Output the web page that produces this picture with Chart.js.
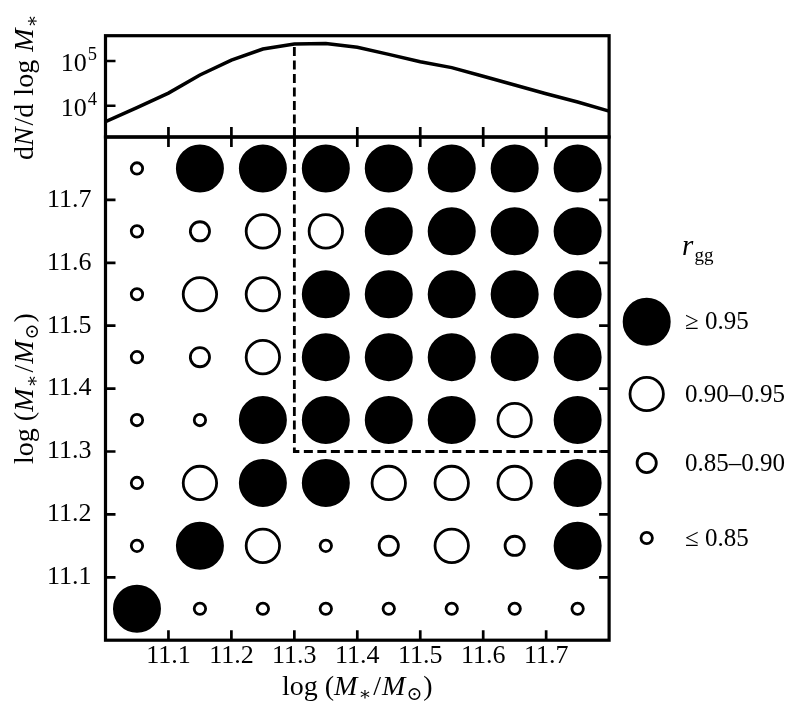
<!DOCTYPE html>
<html>
<head>
<meta charset="utf-8">
<script src="https://cdn.jsdelivr.net/npm/chart.js@4.4.0/dist/chart.umd.min.js"></script>
<style>
html,body{margin:0;padding:0;background:#fff;}
#wrap{width:796px;height:721px;position:relative;}
</style>
</head>
<body>
<div id="wrap"><canvas id="c" width="796" height="721"></canvas></div>
<script>
// ---------------- data ----------------
// stellar-mass bin centres (x, columns)
const massBins = [11.05, 11.15, 11.25, 11.35, 11.45, 11.55, 11.65, 11.75];
// rows of the grid, from top (11.75) to bottom (11.05)
const rowMasses = [11.75, 11.65, 11.55, 11.45, 11.35, 11.25, 11.15, 11.05];
// r_gg class per cell: 0 = <=0.85, 1 = 0.85-0.90, 2 = 0.90-0.95, 3 = >=0.95
const rggClass = [
  [0, 3, 3, 3, 3, 3, 3, 3],
  [0, 1, 2, 2, 3, 3, 3, 3],
  [0, 2, 2, 3, 3, 3, 3, 3],
  [0, 1, 2, 3, 3, 3, 3, 3],
  [0, 0, 3, 3, 3, 3, 2, 3],
  [0, 2, 3, 3, 2, 2, 2, 3],
  [0, 3, 2, 0, 1, 2, 1, 3],
  [3, 0, 0, 0, 0, 0, 0, 0]
];
const classLabels = ['\u2264 0.85', '0.85\u20130.90', '0.90\u20130.95', '\u2265 0.95'];

// stellar mass function, top panel
const mfMass = [11.00, 11.05, 11.10, 11.15, 11.20, 11.25, 11.30, 11.35, 11.40,
                11.45, 11.50, 11.55, 11.60, 11.65, 11.70, 11.75, 11.80];
const mfValues = [4390, 9100, 19200, 48600, 105000, 185000, 240000, 245000, 202000,
                  141000, 96400, 71100, 45500, 29000, 18500, 12100, 7600];

// axes
const xTicks = [11.1, 11.2, 11.3, 11.4, 11.5, 11.6, 11.7];
const yTicks = [11.1, 11.2, 11.3, 11.4, 11.5, 11.6, 11.7];
const mfTicks = [1e4, 1e5];
const massRange = [11.0, 11.8];
const mfRange = [2000, 368000];
const cutMass = 11.3;

// ---------------- styling ----------------
const SERIF = "'Liberation Serif','DejaVu Serif',serif";
const FS = 25;
const TFS = 26;
const BW = 2.8;
const classStyle = [
  { r: 7.1 - BW / 2,  fill: '#ffffff' },
  { r: 11.0 - BW / 2, fill: '#ffffff' },
  { r: 18.1 - BW / 2, fill: '#ffffff' },
  { r: 24.0 - BW / 2, fill: '#000000' }
];

const datasets = classLabels.map((lab, k) => ({
  type: 'scatter',
  label: lab,
  data: [],
  xAxisID: 'x',
  yAxisID: 'y',
  showLine: false,
  pointRadius: classStyle[k].r,
  pointHoverRadius: classStyle[k].r,
  pointBackgroundColor: classStyle[k].fill,
  pointBorderColor: '#000',
  pointBorderWidth: BW,
  pointHoverBorderWidth: BW
}));
rowMasses.forEach((ym, i) => {
  massBins.forEach((xm, j) => {
    datasets[rggClass[i][j]].data.push({ x: xm, y: ym });
  });
});
datasets.push({
  type: 'line',
  label: 'dN/dlogM',
  data: mfMass.map((m, i) => ({ x: m, y: mfValues[i] })),
  xAxisID: 'x',
  yAxisID: 'yTop',
  borderColor: '#000',
  borderWidth: 3.5,
  pointRadius: 0,
  tension: 0,
  fill: false
});

function drawRich(ctx, parts, cx, cy, rot) {
  ctx.save();
  ctx.translate(cx, cy);
  ctx.rotate(rot);
  const widths = parts.map(p => {
    if (p.gap !== undefined) return p.gap;
    ctx.font = p.font;
    return ctx.measureText(p.t).width;
  });
  const total = widths.reduce((a, b) => a + b, 0);
  let x = -total / 2;
  ctx.textAlign = 'left';
  ctx.textBaseline = 'alphabetic';
  parts.forEach((p, i) => {
    if (p.gap === undefined) {
      ctx.font = p.font;
      ctx.fillText(p.t, x, p.dy || 0);
    }
    x += widths[i];
  });
  ctx.restore();
}

const rom = (s) => `${s}px ${SERIF}`;
const ita = (s) => `italic ${s}px ${SERIF}`;
const LFS = 28;
const SFS = 19;
const massLabel = [
  { t: 'log', font: rom(LFS) }, { gap: 7 },
  { t: '(', font: rom(LFS) },
  { t: 'M', font: ita(LFS) }, { gap: 1 },
  { t: '\u2217', font: rom(SFS), dy: 5 }, { gap: 2 },
  { t: '/', font: rom(LFS) }, { gap: 1 },
  { t: 'M', font: ita(LFS) }, { gap: 1 },
  { t: '\u2299', font: rom(SFS), dy: 5 }, { gap: 1 },
  { t: ')', font: rom(LFS) }
];
const mfLabel = [
  { t: 'd', font: rom(LFS) },
  { t: 'N', font: ita(LFS) }, { gap: 2 },
  { t: '/', font: rom(LFS) },
  { t: 'd', font: rom(LFS) }, { gap: 8 },
  { t: 'log', font: rom(LFS) }, { gap: 8 },
  { t: 'M', font: ita(LFS) }, { gap: 1 },
  { t: '\u2217', font: rom(SFS), dy: 5 }
];

const decor = {
  id: 'decor',
  afterDraw(chart) {
    const { ctx, chartArea: ca, scales } = chart;
    const sx = scales.x, sy = scales.y, st = scales.yTop;
    ctx.save();
    ctx.strokeStyle = '#000';
    ctx.fillStyle = '#000';

    // dashed selection lines
    ctx.lineWidth = 2.8;
    ctx.setLineDash([9, 4.5]);
    const xc = sx.getPixelForValue(cutMass);
    const iCut = mfMass.indexOf(cutMass);
    ctx.beginPath();
    ctx.moveTo(xc, st.getPixelForValue(mfValues[iCut]) + 3);
    ctx.lineTo(xc, st.bottom);
    ctx.stroke();
    const yc = sy.getPixelForValue(cutMass);
    ctx.beginPath();
    ctx.moveTo(xc, sy.top);
    ctx.lineTo(xc, yc);
    ctx.lineTo(sx.right, yc);
    ctx.stroke();
    ctx.setLineDash([]);

    // ticks (inward)
    ctx.lineWidth = 2.7;
    const L = 10;
    ctx.beginPath();
    xTicks.forEach(v => {
      const px = sx.getPixelForValue(v);
      ctx.moveTo(px, sy.bottom); ctx.lineTo(px, sy.bottom - L);
      ctx.moveTo(px, sy.top); ctx.lineTo(px, sy.top + L);
      ctx.moveTo(px, st.bottom); ctx.lineTo(px, st.bottom - L);
    });
    yTicks.forEach(v => {
      const py = sy.getPixelForValue(v);
      ctx.moveTo(ca.left, py); ctx.lineTo(ca.left + L, py);
      ctx.moveTo(ca.right, py); ctx.lineTo(ca.right - L, py);
    });
    mfTicks.forEach(v => {
      const py = st.getPixelForValue(v);
      ctx.moveTo(ca.left, py); ctx.lineTo(ca.left + L, py);
    });
    ctx.stroke();

    // frames
    ctx.lineWidth = 3.2;
    ctx.strokeRect(ca.left, st.top, ca.right - ca.left, st.bottom - st.top);
    ctx.strokeRect(ca.left, sy.top, ca.right - ca.left, sy.bottom - sy.top);

    // log tick labels 10^n
    ctx.textAlign = 'left';
    ctx.textBaseline = 'alphabetic';
    mfTicks.forEach(v => {
      const py = st.getPixelForValue(v);
      const ex = String(Math.round(Math.log10(v)));
      ctx.font = rom(TFS);
      const w10 = ctx.measureText('10').width;
      ctx.font = rom(18.5);
      const we = ctx.measureText(ex).width;
      const x0 = ca.left - 8.5 - we - 1 - w10;
      ctx.font = rom(TFS);
      ctx.fillText('10', x0, py + 10);
      ctx.font = rom(18.5);
      ctx.fillText(ex, x0 + w10 + 1, py + 10 - 11);
    });

    // axis titles
    drawRich(ctx, massLabel, (sx.left + sx.right) / 2, 695, 0);
    drawRich(ctx, massLabel, 33, (sy.top + sy.bottom) / 2, -Math.PI / 2);
    drawRich(ctx, mfLabel, 33, (st.top + st.bottom) / 2 + 1, -Math.PI / 2);

    // legend
    const mx = ca.right + 37.6;
    const tx = ca.right + 76;
    const rowsY = [538, 463, 394, 321.7];
    ctx.font = ita(29);
    ctx.fillText('r', ca.right + 73, 255);
    const wr = ctx.measureText('r').width;
    ctx.font = rom(19);
    ctx.fillText('gg', ca.right + 73 + wr + 1, 261);
    classLabels.forEach((lab, k) => {
      const y = rowsY[k];
      ctx.beginPath();
      ctx.arc(mx, y, classStyle[k].r, 0, Math.PI * 2);
      ctx.fillStyle = classStyle[k].fill;
      ctx.fill();
      ctx.lineWidth = BW;
      ctx.strokeStyle = '#000';
      ctx.stroke();
      ctx.fillStyle = '#000';
      ctx.font = rom(FS);
      ctx.textBaseline = 'middle';
      ctx.fillText(lab, tx, y + 1);
      ctx.textBaseline = 'alphabetic';
    });
    ctx.restore();
  }
};

const tickFont = { family: SERIF, size: TFS };
new Chart(document.getElementById('c'), {
  type: 'scatter',
  data: { datasets },
  options: {
    responsive: false,
    animation: false,
    events: [],
    layout: { padding: { left: 0, top: 35.7, right: 186.9, bottom: 0 } },
    plugins: { legend: { display: false }, tooltip: { enabled: false } },
    scales: {
      x: {
        type: 'linear', position: 'bottom',
        min: massRange[0], max: massRange[1],
        grid: { display: false, drawTicks: false },
        border: { display: false },
        ticks: { color: '#000', font: tickFont, padding: 0, autoSkip: false, maxRotation: 0,
                 callback: v => Number(v).toFixed(1) },
        afterBuildTicks: s => { s.ticks = xTicks.map(v => ({ value: v })); },
        afterFit: s => { s.height = 80.8; }
      },
      y: {
        type: 'linear', position: 'left', stack: 'v', stackWeight: 4.967, weight: 0,
        min: massRange[0], max: massRange[1],
        grid: { display: false, drawTicks: false },
        border: { display: false },
        ticks: { color: '#000', font: tickFont, padding: 14, autoSkip: false,
                 callback: v => Number(v).toFixed(1) },
        afterBuildTicks: s => { s.ticks = yTicks.map(v => ({ value: v })); },
        afterFit: s => { s.width = 105.5; }
      },
      yTop: {
        type: 'logarithmic', position: 'left', stack: 'v', stackWeight: 1, weight: 1,
        min: mfRange[0], max: mfRange[1],
        grid: { display: false, drawTicks: false },
        border: { display: false },
        ticks: { display: false },
        afterFit: s => { s.width = 105.5; }
      }
    }
  },
  plugins: [decor]
});
</script>
</body>
</html>
